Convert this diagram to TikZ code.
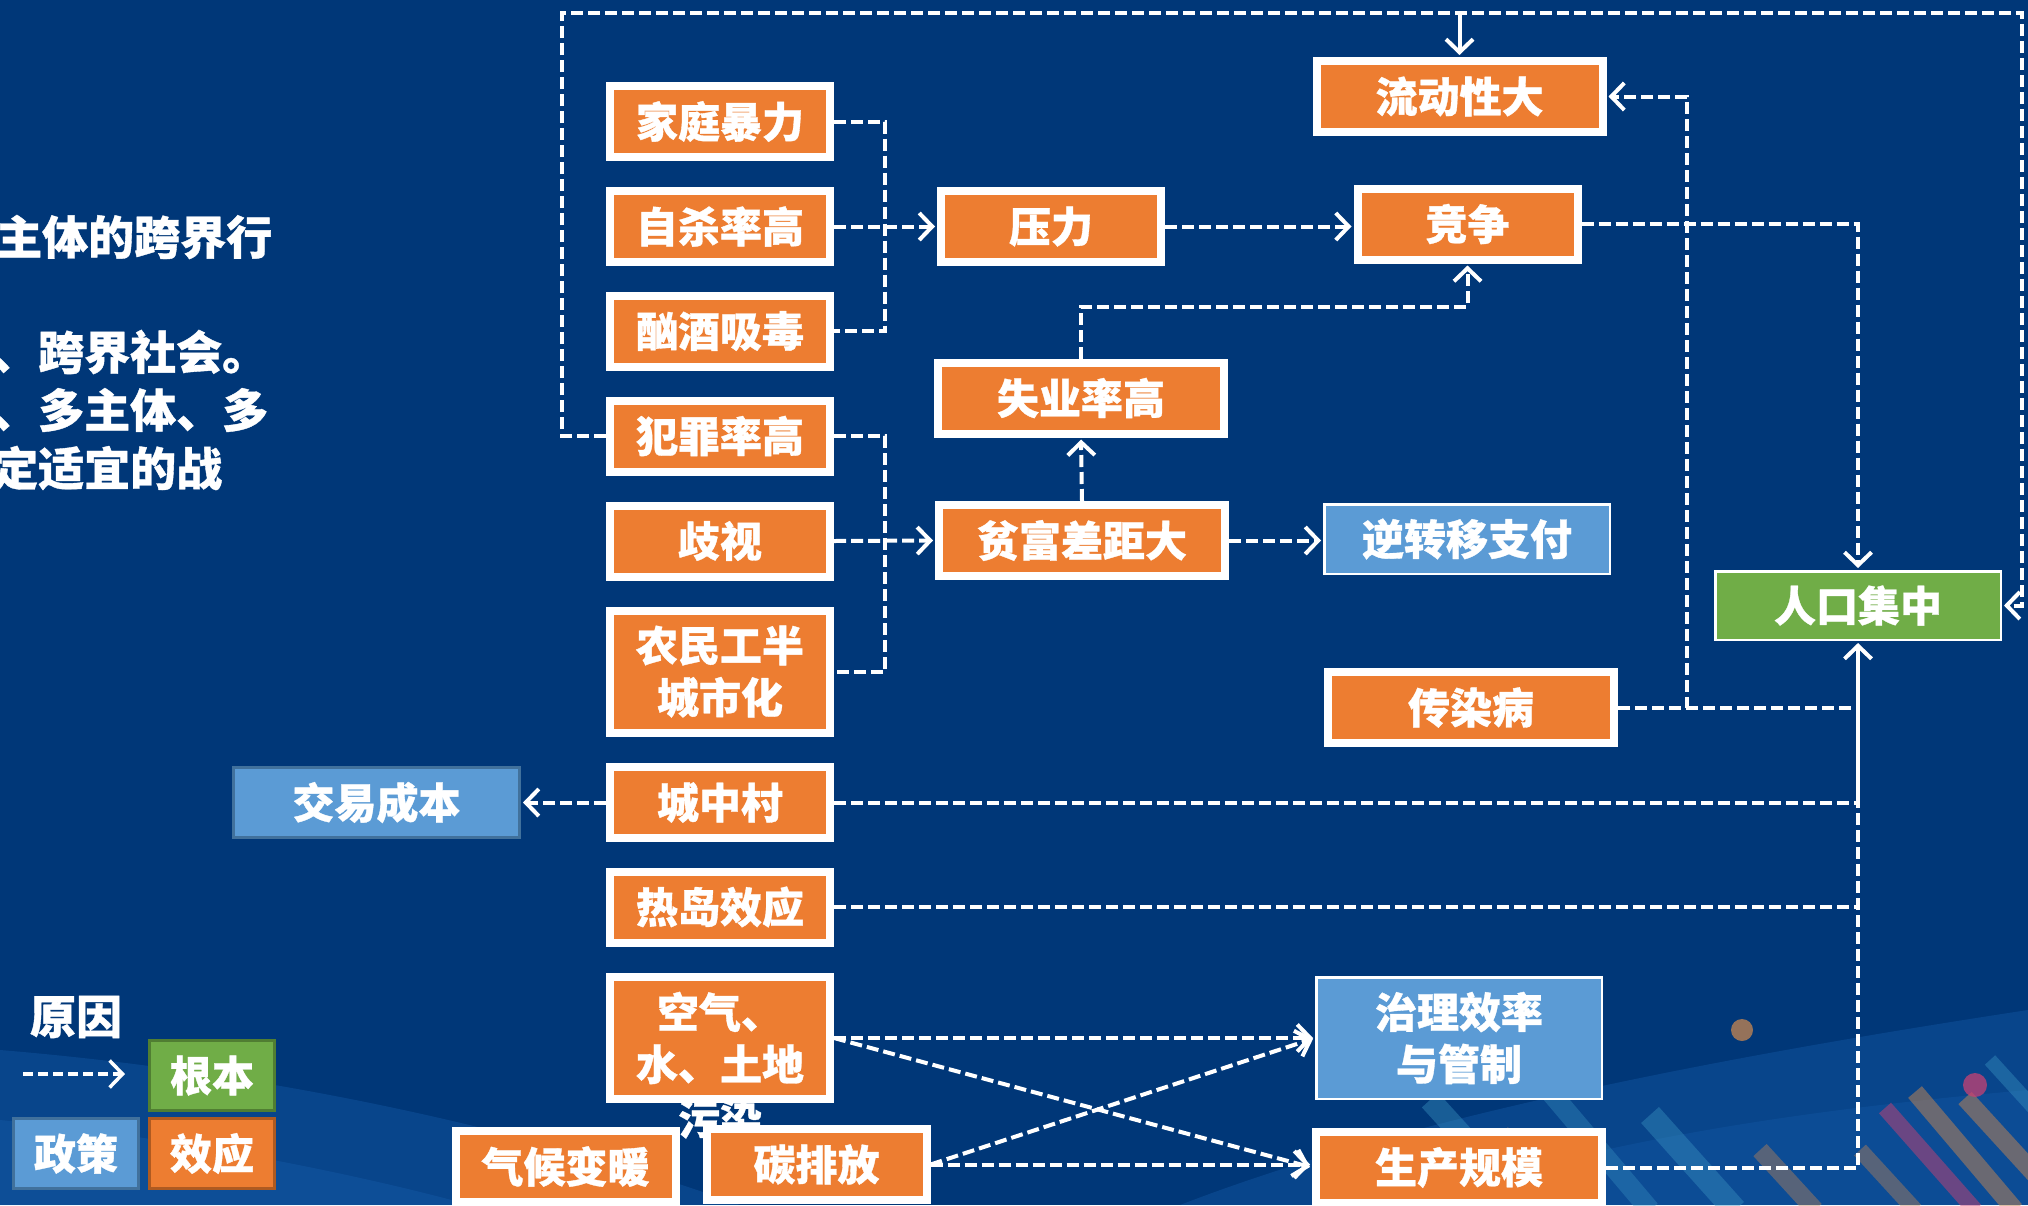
\documentclass[tikz,border=0pt]{standalone}
\usepackage{fontspec}
\setmainfont{Noto Sans CJK SC}[BoldFeatures={FakeBold=0.8}]
\usetikzlibrary{arrows.meta}
\definecolor{bg}{RGB}{0,55,120}
\definecolor{effectfill}{RGB}{237,125,49}
\definecolor{policyfill}{RGB}{91,155,213}
\definecolor{rootfill}{RGB}{112,173,71}
\definecolor{policyline}{RGB}{65,113,156}
\definecolor{effectline}{RGB}{174,90,33}
\definecolor{rootline}{RGB}{80,126,50}
\definecolor{wave}{RGB}{40,120,210}
\definecolor{barteal}{RGB}{60,150,195}
\definecolor{barorange}{RGB}{200,135,80}
\definecolor{barpink}{RGB}{200,65,115}

\begin{document}
\begin{tikzpicture}[x=1pt,y=-1pt,
  box/.style={text=white, font=\bfseries\fontsize{42}{52}\selectfont, align=center, inner sep=0pt},
  effect/.style={box, fill=effectfill, draw=white, line width=8pt},
  policy/.style={box, fill=policyfill, draw=white, line width=2.5pt},
  root/.style={box, fill=rootfill, draw=white, line width=2.5pt},
  single/.style={minimum width=220pt, minimum height=71pt},
  wide/.style={minimum width=286pt, minimum height=71pt},
  double/.style={minimum width=220pt, minimum height=122pt},
  legendbox/.style={box, line width=3pt, minimum width=125pt, minimum height=70pt},
  link/.style={draw=white, line width=4pt, dash pattern=on 12pt off 5pt},
  arrowed/.style={-{Straight Barb[length=13pt,width=27pt]}, shorten >=2pt},
  sidetext/.style={text=white, font=\bfseries\fontsize{46}{46}\selectfont, inner sep=0pt},
]
% background
\fill[bg] (0,0) rectangle (2028,1205);
\useasboundingbox (0,0) rectangle (2028,1205);

% soft light bands and bars along the bottom edge
\fill[wave, opacity=0.22] (0,1050) .. controls (300,1075) and (560,1140) .. (740,1205) -- (0,1205) -- cycle;
\fill[wave, opacity=0.18] (0,1120) .. controls (200,1140) and (380,1180) .. (470,1205) -- (0,1205) -- cycle;
\fill[wave, opacity=0.22] (1180,1205) .. controls (1400,1120) and (1700,1060) .. (2028,1010) -- (2028,1205) -- cycle;
\fill[wave, opacity=0.15] (1400,1205) .. controls (1600,1140) and (1800,1110) .. (2028,1090) -- (2028,1205) -- cycle;
\draw[barteal, opacity=0.40, line width=22pt] (1430,1100) -- (1530,1210);
\draw[barteal, opacity=0.35, line width=20pt] (1540,1080) -- (1650,1210);
\draw[barorange, opacity=0.45, line width=22pt] (1500,1135) -- (1575,1210);
\draw[barteal, opacity=0.40, line width=24pt] (1650,1115) -- (1735,1210);
\draw[barorange, opacity=0.40, line width=18pt] (1760,1150) -- (1815,1210);
\draw[barpink, opacity=0.50, line width=16pt] (1885,1108) -- (1975,1210);
\draw[barorange, opacity=0.50, line width=18pt] (1915,1092) -- (2015,1210);
\draw[barorange, opacity=0.50, line width=18pt] (1965,1098) -- (2040,1180);
\draw[barorange, opacity=0.40, line width=16pt] (1860,1150) -- (1915,1210);
\draw[barteal, opacity=0.40, line width=14pt] (1990,1060) -- (2040,1115);
\fill[barorange, opacity=0.75] (1742,1030) circle (11);
\fill[barpink, opacity=0.75] (1975,1085) circle (12);
\fill[barteal, opacity=0.7] (1427,1060) circle (5);

% text on the left edge
\node[sidetext, anchor=west] (t1) at (-4,237) {主体的跨界行};
\node[sidetext, anchor=west] (t2) at (-8,352) {、跨界社会。};
\node[sidetext, anchor=west] (t3) at (-8,410) {、多主体、多};
\node[sidetext, anchor=west] (t4) at (-8,468) {定适宜的战};

% left column
\node[effect, single] (jtbl) at (720,121.5) {家庭暴力};
\node[effect, single] (zsl)  at (720,226.5) {自杀率高};
\node[effect, single] (xjxd) at (720,331)   {酗酒吸毒};
\node[effect, single] (fzl)  at (720,436)   {犯罪率高};
\node[effect, single] (qs)   at (720,541)   {歧视};
\node[effect, double] (nmg)  at (720,671.5) {农民工半\\城市化};
\node[effect, single] (czc)  at (720,802.5) {城中村};
\node[effect, single] (rd)   at (720,907)   {热岛效应};
\node[text=white, font=\bfseries\fontsize{42}{52}\selectfont, inner sep=0pt] (wr) at (720,1119) {污染};
\node[effect, double] (kq)   at (720,1038)  {空气、\\水、土地};
\node[effect, single] (qh)   at (565.5,1166.5) {气候变暖};
\node[effect, single] (tpf)  at (816.5,1164.5) {碳排放};

% middle and right nodes
\node[effect, single] (yl)   at (1051,226.5)  {压力};
\node[effect, single] (jz)   at (1467.5,224)  {竞争};
\node[effect, wide]   (ldx)  at (1459.5,96.5) {流动性大};
\node[effect, wide]   (sy)   at (1081,398)    {失业率高};
\node[effect, wide]   (pf)   at (1082,540.5)  {贫富差距大};
\node[policy, minimum width=285.5pt, minimum height=69.5pt] (nzy) at (1467,539) {逆转移支付};
\node[root, minimum width=285.5pt, minimum height=68.5pt] (rk) at (1858,605.5) {人口集中};
\node[effect, wide]   (crb)  at (1471,707.5)  {传染病};
\node[policy, draw=policyline, line width=3pt, minimum width=286pt, minimum height=70pt] (jy) at (376.5,802.5) {交易成本};
\node[policy, minimum width=285.5pt, minimum height=121.5pt] (zl) at (1459,1038) {治理效率\\与管制};
\node[effect, wide]   (sc)   at (1459,1167.5) {生产规模};

% connectors among the causes
\draw[link] (jtbl.east) -- ++(51,0) |- (xjxd.east);
\draw[link, arrowed] (zsl.east) -- (yl.west);
\draw[link] (fzl.east) -- ++(51,0) |- (nmg.east);
\draw[link, arrowed] (qs.east) -- (pf.west);
\draw[link, arrowed] (yl.east) -- (yl.east -| jz.west);
\draw[link, arrowed] (sy.north) -- ++(0,-52) -| (jz.south);
\draw[link, arrowed] (pf.north) -- (sy.south);
\draw[link, arrowed] (pf.east) -- (pf.east -| nzy.west);
\draw[link, arrowed] (jz.east) -| (rk.north);
\draw[link, arrowed] (crb.east) -- ++(69,0) |- (ldx.east);
\draw[link] (crb.east) -- (crb.east -| rk.south);
\draw[link, arrowed] (czc.west) -- (jy.east);
\draw[link] (czc.east) -- (czc.east -| rk.south);
\draw[link] (rd.east) -- (rd.east -| rk.south);
\draw[link] (sc.east) -| (czc.east -| rk.south);
\draw[white, line width=4pt, arrowed] (czc.east -| rk.south) -- (rk.south);
\draw[link, arrowed] (kq.east) -- (kq.east -| zl.west);
\draw[link, arrowed] (kq.east) -- (sc.west);
\draw[link, arrowed] (tpf.east) -- (zl.west);
\draw[link, arrowed] (tpf.east) -- (tpf.east -| sc.west);

% outer loop along the top and right edges
\coordinate (loopL) at (562,13);
\coordinate (loopR) at (2022,13);
\draw[link, arrowed] (fzl.west) -| (loopL) -- (loopR) |- (rk.east);
\draw[white, line width=4pt, arrowed] (ldx.north |- loopL) -- (ldx.north);

% legend
\node[sidetext] (yy) at (76,1017) {原因};
\coordinate (la) at (23,1074);
\coordinate (lb) at (127,1074);
\draw[link, line width=3.5pt, dash pattern=on 10pt off 5pt, arrowed] (la) -- (lb);
\node[legendbox, fill=rootfill, draw=rootline] (gb) at (212,1075.5) {根本};
\node[legendbox, fill=policyfill, draw=policyline] (zc) at (76,1153.5) {政策};
\node[legendbox, fill=effectfill, draw=effectline] (xy) at (212,1153.5) {效应};
\end{tikzpicture}
\end{document}
